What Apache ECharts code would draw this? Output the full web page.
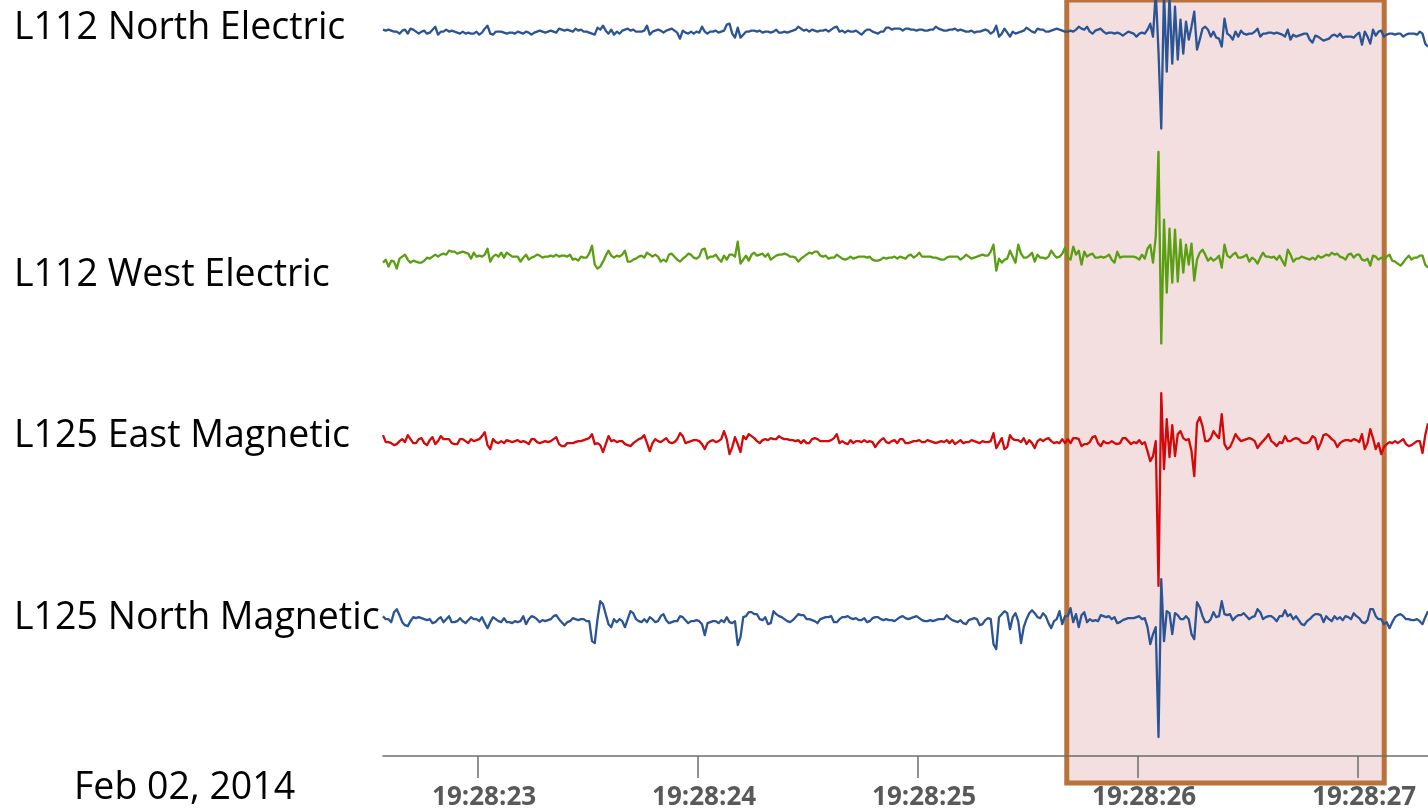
<!DOCTYPE html>
<html>
<head>
<meta charset="utf-8">
<script src="https://cdn.jsdelivr.net/npm/echarts@6/dist/echarts.min.js"></script>
<style>
  html, body { margin: 0; padding: 0; background: #ffffff; }
  #chart { width: 1428px; height: 811px; }
</style>
</head>
<body>
<div id="chart"></div>
<script>
// Time base: seconds after 19:28:00, sampled at 80 Hz
const START_SEC = 22.57;
const SAMPLE_STEP = 0.0125;
const END_SEC = 27.32;
const TICK_SECONDS = [23, 24, 25, 26, 27];
const TIME_PREFIX = '19:28:';
const DATE_LABEL = 'Feb 02, 2014';
const EVENT_WINDOW = [25.678, 27.121];

const CHANNEL_NAMES = ['L112 North Electric', 'L112 West Electric', 'L125 East Magnetic', 'L125 North Magnetic'];

// Sensor amplitudes (arbitrary counts), one row per 0.25 s
const northElectric = [
  2,1,2,1,0,0,-2,1,2,-2,3,2,0,-2,0,1,-2,-1,2,5,
  -3,0,0,2,0,1,0,-1,-2,0,-2,-1,-2,-2,0,-3,-1,3,6,-2,
  -3,0,0,0,-1,-2,-1,-1,-2,0,-1,-2,0,-1,-3,-1,0,1,0,-1,
  0,1,0,-1,3,2,1,2,1,0,3,1,2,0,0,-1,-2,-3,4,2,
  6,1,-2,2,-3,0,-2,1,2,3,1,2,0,0,0,1,6,-3,0,1,
  2,1,-1,1,2,3,1,-1,-7,1,-1,-2,0,-2,0,-1,5,0,-2,0,
  0,1,-1,0,1,7,8,-2,-6,4,-6,-3,0,0,1,1,0,1,-1,0,
  0,-1,0,2,-1,-1,0,-1,0,1,2,5,3,1,2,0,2,1,0,1,
  1,2,0,2,4,5,0,1,-1,1,0,0,1,-1,-3,0,2,2,0,-1,
  -2,0,0,4,4,2,3,3,3,1,3,3,2,2,1,2,2,1,1,2,
  2,5,3,2,1,1,2,2,3,1,2,1,0,0,1,-1,0,0,1,2,
  1,-2,0,6,-5,-2,3,-1,-5,0,-2,-1,0,1,4,2,0,-1,3,2,
  2,0,0,1,2,3,2,1,0,0,1,0,2,5,3,2,5,0,-2,1,
  2,3,0,-2,-1,-1,-2,-1,-2,-4,-2,0,-1,-2,-5,-2,-1,-2,2,8,
  -5,40,-20,-97,40,-40,36,-32,25,-28,12,-22,10,-8,5,20,-18,-8,3,5,
  2,-5,0,-6,-7,-15,13,-2,-4,-8,0,-5,1,-2,-3,-2,-2,0,3,-5,
  -2,-2,-1,-1,-2,-1,-2,-3,-5,2,-8,-3,-5,-4,-3,-2,-2,-8,-11,-4,
  -5,-7,-9,-8,-7,-4,-3,-5,-2,-6,-5,-5,-5,-6,-3,-1,-13,0,-5,-12,
  2,-4,0,1,-5,-3,-2,-2,-3,-2,-2,-5,-3,-2,-2,-2,-3,0,-2,-12,
  -15
];

const westElectric = [
  -6,-3,-10,-4,-5,-12,-2,0,2,-3,-6,-4,-5,-6,-6,-4,-1,-2,0,2,
  0,2,3,2,6,5,5,3,4,5,4,3,-2,4,0,1,0,2,8,-5,
  0,2,0,4,-1,4,2,0,0,0,-5,-1,2,-3,-1,0,2,1,-1,0,
  0,1,0,2,0,1,1,0,2,-3,-2,-4,0,-1,-1,3,11,-8,-12,-10,
  -5,1,6,1,-1,1,0,2,6,-5,-5,-3,-2,0,1,-1,4,2,0,2,
  0,-5,-3,-5,2,3,0,-3,-5,-2,0,3,2,-1,-2,0,7,8,-2,0,
  0,2,-2,-5,1,-3,2,2,0,15,-7,-3,1,-4,2,4,1,2,3,0,
  3,-3,-1,1,2,2,3,2,0,0,-1,-5,-2,0,2,4,3,5,5,1,
  0,1,-2,-1,-1,2,0,-2,-3,-2,0,-2,-1,0,0,0,-1,0,-3,-4,
  -4,-3,-1,-2,-1,-1,0,-2,0,-1,-2,1,2,-1,1,4,0,0,0,0,
  -1,-1,-2,-3,-3,-1,0,0,0,0,-3,-1,2,0,-2,-1,0,1,2,1,
  1,5,12,-14,-2,-6,-3,-2,6,0,-6,12,3,-1,-1,1,4,-5,2,-1,
  -1,-2,0,6,2,-1,0,3,9,-1,-3,10,2,6,-8,5,0,2,3,-1,
  -1,0,-1,0,2,-3,-6,5,-1,0,0,0,0,0,-1,-3,2,-2,8,12,
  -6,20,105,-87,37,-36,28,-26,27,-25,17,-16,12,-8,13,-24,-3,4,7,2,
  -4,-1,-4,-2,1,-11,12,1,-1,2,4,-1,-1,0,2,-5,-1,-3,-7,-1,
  4,0,0,-1,0,-3,1,-4,-9,7,2,-5,-2,-2,0,-1,-2,-3,-1,-3,
  1,-1,0,2,1,4,2,3,0,-1,-3,2,3,-1,2,2,-3,-4,-2,-9,
  1,0,-3,-1,-3,0,2,-4,-5,-7,-9,-6,-2,1,-3,-1,-1,1,1,-8,
  -11
];

const eastMagnetic = [
  6,-1,-1,-2,-4,-3,0,2,-1,6,2,-2,-2,2,3,-2,-4,1,4,-3,
  0,5,2,2,2,-2,-3,-3,2,2,0,-2,2,0,1,2,5,9,-4,-8,
  2,-1,-2,0,-2,1,0,-1,0,1,-1,0,-1,-3,2,2,-1,-2,-1,0,
  -1,0,2,4,-3,-5,-5,-2,-2,-2,-1,0,0,1,2,3,7,-3,-2,-4,
  -11,-3,5,0,1,-1,0,0,-3,-4,-5,-2,0,2,3,6,-2,-10,-2,2,
  0,-1,1,3,-1,-2,-1,2,8,5,-2,-1,0,1,1,0,-3,-8,-2,0,
  1,-1,0,2,10,2,-13,-6,4,-3,-11,5,2,7,5,3,0,-2,1,2,
  1,3,2,2,5,3,2,2,1,1,0,1,-2,1,-2,-2,2,3,2,0,
  0,0,0,1,3,7,-2,0,-2,-3,1,-2,0,0,-1,1,-1,0,-1,-6,
  -2,1,3,-1,-2,0,1,-2,2,2,-2,-2,-1,0,0,1,-1,-1,1,0,
  -1,-2,-1,0,-1,1,-2,1,-3,-1,1,-2,-1,-1,1,0,-1,-2,0,-1,
  -1,0,8,-7,-2,3,-8,-6,6,2,1,1,-1,3,-3,1,-2,-7,0,2,
  0,2,3,0,-2,-1,-2,2,-2,2,-2,3,3,2,-5,-3,-3,-1,4,5,
  -2,-5,0,-2,-2,0,-2,-3,-2,3,3,0,-3,-1,-2,1,-3,-1,-10,-20,
  -15,0,-145,48,-28,22,-16,16,-15,7,10,3,1,2,-10,-35,18,24,15,0,
  0,3,10,6,3,27,-3,-8,-6,0,7,3,0,1,2,3,2,0,-7,-3,
  0,3,7,0,-2,-5,-1,-2,5,0,0,2,3,2,-1,-2,-2,0,5,3,
  -8,-2,6,7,5,2,0,-6,-2,0,1,1,0,2,1,-1,7,-8,-2,12,
  3,-8,-2,-13,-6,-3,-1,-2,0,-2,0,2,-3,-5,-4,-2,0,0,-12,6,
  18
];

const northMagnetic = [
  3,0,0,-3,7,10,4,-3,-6,-7,-2,2,1,2,1,0,-1,0,-4,-3,
  0,2,-3,0,3,-3,-3,-2,1,-2,-4,-1,2,0,0,-2,2,-4,-9,-3,
  2,0,-2,-3,1,-3,-3,-4,-2,-3,-2,3,-5,0,3,2,0,-3,-1,-2,
  -1,0,3,4,0,-3,-6,-3,-2,1,0,-1,0,0,-2,-2,-22,-24,0,18,
  15,5,-5,-8,0,-3,0,-2,-8,0,8,6,0,-2,-3,0,-3,2,0,-3,
  -2,3,5,-1,-4,-3,-2,-2,3,2,-1,-4,-2,-2,-1,-2,-5,-16,-4,-3,
  -2,-2,-4,-1,-3,2,-3,-4,-2,-26,-18,2,3,7,7,5,5,0,-1,2,
  -5,-4,8,5,3,2,0,-2,-3,-1,2,5,4,4,0,0,-1,-2,-4,0,
  1,2,2,3,-3,-3,0,2,2,3,1,0,1,-1,-1,1,-3,-2,1,2,
  2,0,-1,0,-1,-1,-2,0,2,3,1,0,1,2,3,1,-1,-2,-2,-1,
  -2,-1,0,0,0,4,1,-1,-2,-3,-1,-4,-5,-1,0,1,0,-6,-5,-1,
  1,0,-25,-30,2,5,8,6,-10,2,6,-2,-24,-8,0,6,9,6,2,1,
  6,3,-4,-9,-2,0,8,-5,3,3,11,-3,5,-8,4,7,-3,0,-2,-1,
  -2,4,3,2,3,0,2,-4,-3,-1,0,1,1,1,2,3,0,1,-8,-25,
  -15,-8,-118,40,-22,8,6,-15,6,4,0,0,3,0,-15,-20,17,12,3,-3,
  -3,0,7,2,3,18,5,4,5,-1,2,4,4,6,3,0,2,3,10,7,
  0,2,3,3,1,-2,3,3,9,3,5,0,3,-1,-5,-6,-2,0,3,5,
  5,4,-3,3,0,-2,3,0,2,-1,3,2,0,6,3,1,-3,-4,-1,10,
  10,3,0,0,-5,-3,-9,-3,2,4,5,3,0,0,-1,-1,0,-2,-5,2,
  8
];

// Stacked tracks: each channel gets its own hidden value axis
const channels = [
  { name: CHANNEL_NAMES[0], values: northElectric, color: '#2a5494', range: [-725.3, 31.7], labelY: 28 },
  { name: CHANNEL_NAMES[1], values: westElectric,  color: '#5a9e12', range: [-500, 257],     labelY: 275 },
  { name: CHANNEL_NAMES[2], values: eastMagnetic,  color: '#d20a0a', range: [-315.3, 441.7], labelY: 436 },
  { name: CHANNEL_NAMES[3], values: northMagnetic, color: '#2a5494', range: [-137, 620],     labelY: 618 }
];

const toPoints = vals => vals.map((v, i) => [START_SEC + i * SAMPLE_STEP, v]);
const formatTime = s => TIME_PREFIX + String(s).padStart(2, '0');

const chart = echarts.init(document.getElementById('chart'), null, { renderer: 'canvas' });

const yAxes = channels.map(c => ({
  type: 'value', gridIndex: 0, show: false, min: c.range[0], max: c.range[1]
}));
yAxes.push({ type: 'value', gridIndex: 1, show: false, min: 0, max: 1 });

const traceSeries = channels.map((c, k) => ({
  type: 'line',
  name: c.name,
  xAxisIndex: 0,
  yAxisIndex: k,
  data: toPoints(c.values),
  symbol: 'none',
  showSymbol: false,
  silent: true,
  z: 3,
  lineStyle: { width: 2.3, color: c.color, join: 'round' },
  itemStyle: { color: c.color }
}));

const option = {
  animation: false,
  backgroundColor: '#ffffff',
  grid: [
    { left: 383, right: 0, top: 0, bottom: 54, containLabel: false },
    { left: 383, right: 0, top: -30, bottom: 28, containLabel: false }
  ],
  xAxis: [
    {
      type: 'value', gridIndex: 0, min: START_SEC, max: END_SEC, z: 2,
      axisLine: { show: true, onZero: false, lineStyle: { color: '#6e6e6e', width: 1.5 } },
      axisTick: { show: true, length: 22, customValues: TICK_SECONDS, lineStyle: { color: '#6e6e6e', width: 1.5 } },
      axisLabel: {
        customValues: TICK_SECONDS,
        formatter: formatTime,
        fontFamily: 'Open Sans', fontWeight: 'bold', fontSize: 26, color: '#595959',
        margin: 29, padding: [0, 0, 0, 13]
      },
      splitLine: { show: false }
    },
    { type: 'value', gridIndex: 1, min: START_SEC, max: END_SEC, show: false }
  ],
  yAxis: yAxes,
  series: [
    {
      type: 'line', name: 'event-fill', xAxisIndex: 1, yAxisIndex: 4, data: [], z: 1, silent: true,
      markArea: {
        silent: true,
        itemStyle: { color: '#f3dfdf' },
        data: [[{ xAxis: EVENT_WINDOW[0] }, { xAxis: EVENT_WINDOW[1] }]]
      }
    },
    ...traceSeries,
    {
      type: 'line', name: 'event-frame', xAxisIndex: 1, yAxisIndex: 4, data: [], z: 5, silent: true,
      markArea: {
        silent: true,
        itemStyle: { color: 'rgba(0,0,0,0)', borderColor: '#b8733a', borderWidth: 5 },
        data: [[{ xAxis: EVENT_WINDOW[0] }, { xAxis: EVENT_WINDOW[1] }]]
      }
    }
  ],
  graphic: [
    ...channels.map(c => ({
      type: 'text', x: 14, y: c.labelY, silent: true,
      style: { text: c.name, fontFamily: 'Open Sans', fontSize: 37.5, fill: '#000000', verticalAlign: 'middle' }
    })),
    {
      type: 'text', x: 74, y: 788, silent: true,
      style: { text: DATE_LABEL, fontFamily: 'Open Sans', fontSize: 37.5, fill: '#000000', verticalAlign: 'middle' }
    }
  ]
};

chart.setOption(option);
</script>
</body>
</html>
